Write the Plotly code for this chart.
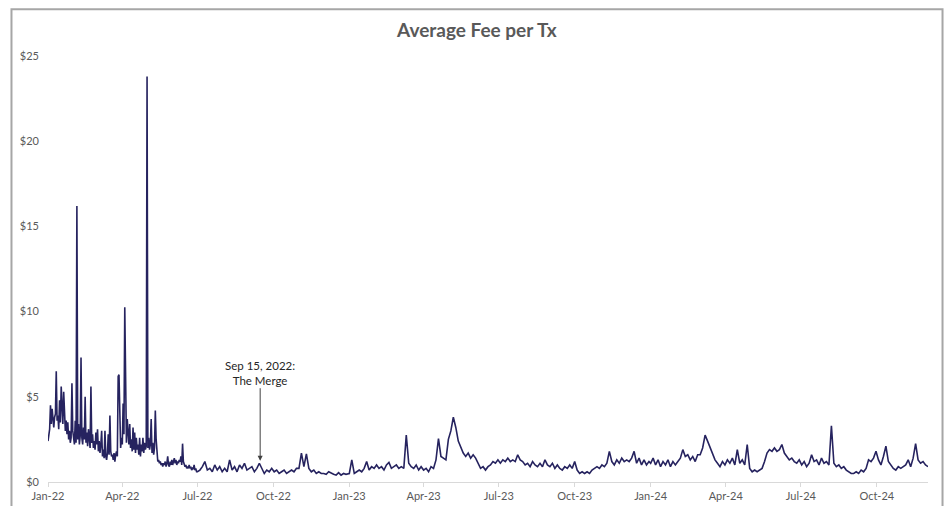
import pandas as pd
import plotly.graph_objects as go

# ---- data (USD average fee per transaction) ----
# daily values, 2022-01-01 .. 2022-06-30
fee_2022_h1 = [
    # Jan
    2.4, 3.0, 3.1, 4.5, 3.4, 4.3, 3.6, 3.2, 3.8, 4.0, 6.5, 3.6, 3.9, 3.1, 4.8, 3.5,
    5.6, 4.0, 3.4, 5.3, 4.1, 3.0, 3.6, 2.8, 3.5, 2.5, 3.0, 2.3, 2.6, 5.8, 3.0,
    # Feb
    2.4, 2.2, 3.6, 2.3, 16.2, 2.5, 3.4, 2.2, 2.7, 7.3, 2.6, 2.2, 3.2, 2.5, 5.0, 2.3,
    2.9, 2.1, 3.1, 2.4, 2.0, 5.6, 2.3, 2.8, 2.0, 2.4, 1.9, 2.9,
    # Mar
    2.2, 3.1, 1.8, 2.4, 1.7, 2.2, 3.0, 1.5, 1.9, 1.4, 3.0, 1.5, 1.3, 1.7, 2.8, 1.6,
    3.9, 1.8, 1.5, 1.6, 1.3, 1.7, 1.2, 1.6, 1.8, 1.5, 6.2, 6.3, 2.4, 2.0, 2.6,
    # Apr
    2.2, 4.6, 2.8, 10.25, 3.9, 2.3, 3.7, 2.6, 2.2, 3.4, 2.0, 2.5, 1.8, 3.2, 1.9,
    2.9, 1.7, 2.6, 1.9, 2.2, 1.6, 2.6, 1.5, 2.2, 1.8, 2.6, 1.7, 2.3, 1.9, 2.1,
    # May
    23.8, 2.0, 2.6, 1.9, 2.2, 3.7, 1.7, 2.3, 1.6, 2.0, 4.2, 2.5, 1.5, 1.2, 1.3, 1.1,
    1.2, 1.0, 1.1, 0.9, 1.1, 1.0, 1.2, 0.9, 1.1, 1.5, 1.0, 0.9, 1.2, 1.0, 1.3,
    # Jun
    1.0, 1.2, 1.4, 1.1, 1.3, 1.0, 1.2, 1.1, 1.3, 1.2, 1.5, 1.0, 2.25, 1.2, 1.1,
    0.9, 1.0, 0.8, 0.9, 0.8, 1.0, 0.8, 0.9, 0.7, 0.8, 0.75, 1.0, 0.7, 0.8, 0.6,
]

# every 3 days from 2022-07-01
fee_2022_h2 = [
    0.6, 0.7, 0.9, 1.2, 0.7, 0.8, 0.6, 1.0, 0.7, 0.9, 0.6,        # Jul
    0.8, 0.6, 1.3, 0.7, 0.9, 0.6, 1.0, 0.8, 1.1, 0.7,             # Aug
    0.8, 0.9, 0.6, 0.8, 1.1, 0.8, 0.5, 0.7, 0.6, 0.8,             # Sep
    0.6, 0.7, 0.5, 0.6, 0.7, 0.5, 0.6, 0.7, 0.6, 0.8,             # Oct
    0.8, 1.7, 0.9, 1.65, 0.8, 0.6, 0.7, 0.5, 0.6, 0.5,            # Nov
    0.5, 0.45, 0.6, 0.5, 0.45, 0.4, 0.55, 0.4, 0.5, 0.45, 0.5,    # Dec
]

# every 3 days from 2023-01-01
fee_2023 = [
    0.5, 1.3, 0.5, 0.6, 0.7, 0.6, 0.8, 1.2, 0.7, 0.9, 0.8,        # Jan
    1.0, 0.8, 0.9, 0.7, 1.0, 1.15, 0.8, 0.9, 1.0,                 # Feb
    0.8, 0.9, 0.8, 2.75, 1.1, 0.9, 0.8, 1.0, 0.7, 0.9,            # Mar
    0.7, 0.8, 0.6, 0.9, 0.8, 1.3, 2.55, 1.5, 1.4, 1.3,            # Apr
    2.5, 3.0, 3.8, 3.2, 2.4, 2.0, 1.7, 1.5, 1.7, 1.4, 1.6,        # May
    1.4, 1.1, 0.8, 0.9, 0.7, 0.9, 1.0, 1.2, 1.1, 1.3,             # Jun
    1.1, 1.3, 1.2, 1.4, 1.2, 1.3, 1.2, 1.6, 1.3, 1.2,             # Jul
    1.0, 1.1, 0.9, 1.2, 1.0, 0.9, 1.1, 0.9, 1.3, 1.0,             # Aug
    0.9, 1.1, 0.8, 1.0, 0.8, 0.7, 0.9, 0.8, 1.0, 0.8,             # Sep
    1.2, 0.7, 0.5, 0.6, 0.5, 0.6, 0.5, 0.7, 0.8, 0.9, 0.8,        # Oct
    1.0, 0.9, 1.1, 1.8, 1.2, 1.0, 1.3, 1.1, 1.4, 1.2,             # Nov
    1.3, 1.2, 1.4, 1.8, 1.1, 1.4, 1.0, 1.3, 1.0, 1.2,             # Dec
]

# every 3 days from 2024-01-01
fee_2024 = [
    1.1, 1.4, 1.0, 1.3, 0.9, 1.2, 1.0, 1.3, 0.9, 1.2, 1.0,        # Jan
    1.2, 1.4, 1.9, 1.5, 1.6, 1.3, 1.5, 1.2, 1.6,                  # Feb
    1.6, 2.0, 2.75, 2.4, 2.0, 1.6, 1.3, 1.1, 0.9, 1.2, 1.0,       # Mar
    1.3, 1.1, 1.4, 1.0, 1.9, 1.1, 1.3, 1.0, 2.2, 0.8,             # Apr
    0.6, 0.7, 0.6, 0.7, 0.8, 1.2, 1.7, 1.9, 1.8, 2.0,             # May
    1.8, 1.9, 2.2, 1.7, 1.5, 1.3, 1.4, 1.2, 1.1, 1.3,             # Jun
    1.0, 1.2, 0.9, 1.1, 1.6, 1.2, 1.3, 1.0, 1.4, 1.1,             # Jul
    1.2, 1.0, 3.3, 1.1, 0.9, 1.0, 0.8, 0.9, 0.7, 0.6, 0.5,        # Aug
    0.5, 0.6, 0.5, 0.7, 0.6, 0.8, 1.3, 1.2, 1.4, 1.8,             # Sep
    1.3, 1.0, 1.5, 2.1, 1.2, 1.0, 0.8, 0.7, 0.9, 0.8,             # Oct
    0.9, 1.0, 1.3, 0.9, 1.4, 2.25, 1.3, 1.1, 1.2, 1.0,            # Nov
    0.9,                                                          # Dec
]

tick_dates = ["2022-01-01", "2022-04-01", "2022-07-01", "2022-10-01",
              "2023-01-01", "2023-04-01", "2023-07-01", "2023-10-01",
              "2024-01-01", "2024-04-01", "2024-07-01", "2024-10-01"]
tick_labels = ["Jan-22", "Apr-22", "Jul-22", "Oct-22", "Jan-23", "Apr-23",
               "Jul-23", "Oct-23", "Jan-24", "Apr-24", "Jul-24", "Oct-24"]
y_ticks = [0, 5, 10, 15, 20, 25]
y_labels = ["$0", "$5", "$10", "$15", "$20", "$25"]

merge_date = "2022-09-15"
merge_value = 1.25
merge_text = "Sep 15, 2022:<br>The Merge"
title_text = "Average Fee per Tx"

# ---- build series ----
dates = (
    list(pd.date_range("2022-01-01", periods=len(fee_2022_h1), freq="D"))
    + list(pd.date_range("2022-07-01", periods=len(fee_2022_h2), freq="3D"))
    + list(pd.date_range("2023-01-01", periods=len(fee_2023), freq="3D"))
    + list(pd.date_range("2024-01-01", periods=len(fee_2024), freq="3D"))
)
values = fee_2022_h1 + fee_2022_h2 + fee_2023 + fee_2024

FONT = "Lato, 'Open Sans', sans-serif"
GREY = "#595959"

fig = go.Figure()
fig.add_trace(go.Scatter(
    x=dates, y=values, mode="lines",
    line=dict(color="#26235f", width=1.6),
    hoverinfo="x+y", showlegend=False,
))

fig.add_annotation(
    x=merge_date, y=merge_value, xref="x", yref="y",
    text=merge_text, showarrow=True,
    ax=0, ay=-88, arrowhead=2, arrowsize=1, arrowwidth=1,
    arrowcolor="#404040", standoff=0,
    font=dict(family=FONT, size=11.5, color="#262626"),
    align="center",
)

# outer chart frame (grey border)
fig.add_shape(type="rect", xref="paper", yref="paper",
              x0=-0.0415, x1=1.0165, y0=-0.2, y1=1.11,
              line=dict(color="#a6a6a6", width=2), fillcolor="rgba(0,0,0,0)",
              layer="below")

fig.update_layout(
    template="none",
    width=948, height=506,
    margin=dict(l=48, r=20, t=56, b=24, autoexpand=False),
    paper_bgcolor="white", plot_bgcolor="white",
    font=dict(family=FONT, color=GREY, size=11),
    title=dict(text="<b>" + title_text + "</b>", x=0.503, xref="container",
               xanchor="center", y=0.94, yref="container", yanchor="middle",
               font=dict(family=FONT, size=19, color=GREY)),
    xaxis=dict(
        type="date", range=["2022-01-01", "2024-12-02"],
        tickvals=tick_dates, ticktext=tick_labels,
        showgrid=False, zeroline=False, automargin=False,
        showline=True, linecolor="#d9d9d9", linewidth=1,
        ticks="outside", ticklen=4, tickcolor="#d9d9d9",
        tickfont=dict(family=FONT, size=11, color=GREY),
    ),
    yaxis=dict(
        range=[0, 25], tickvals=y_ticks, ticktext=y_labels,
        showgrid=False, zeroline=False, showline=False, ticks="",
        automargin=False, ticklabelstandoff=8,
        tickfont=dict(family=FONT, size=11, color=GREY),
    ),
)

fig.write_html("out.html")
